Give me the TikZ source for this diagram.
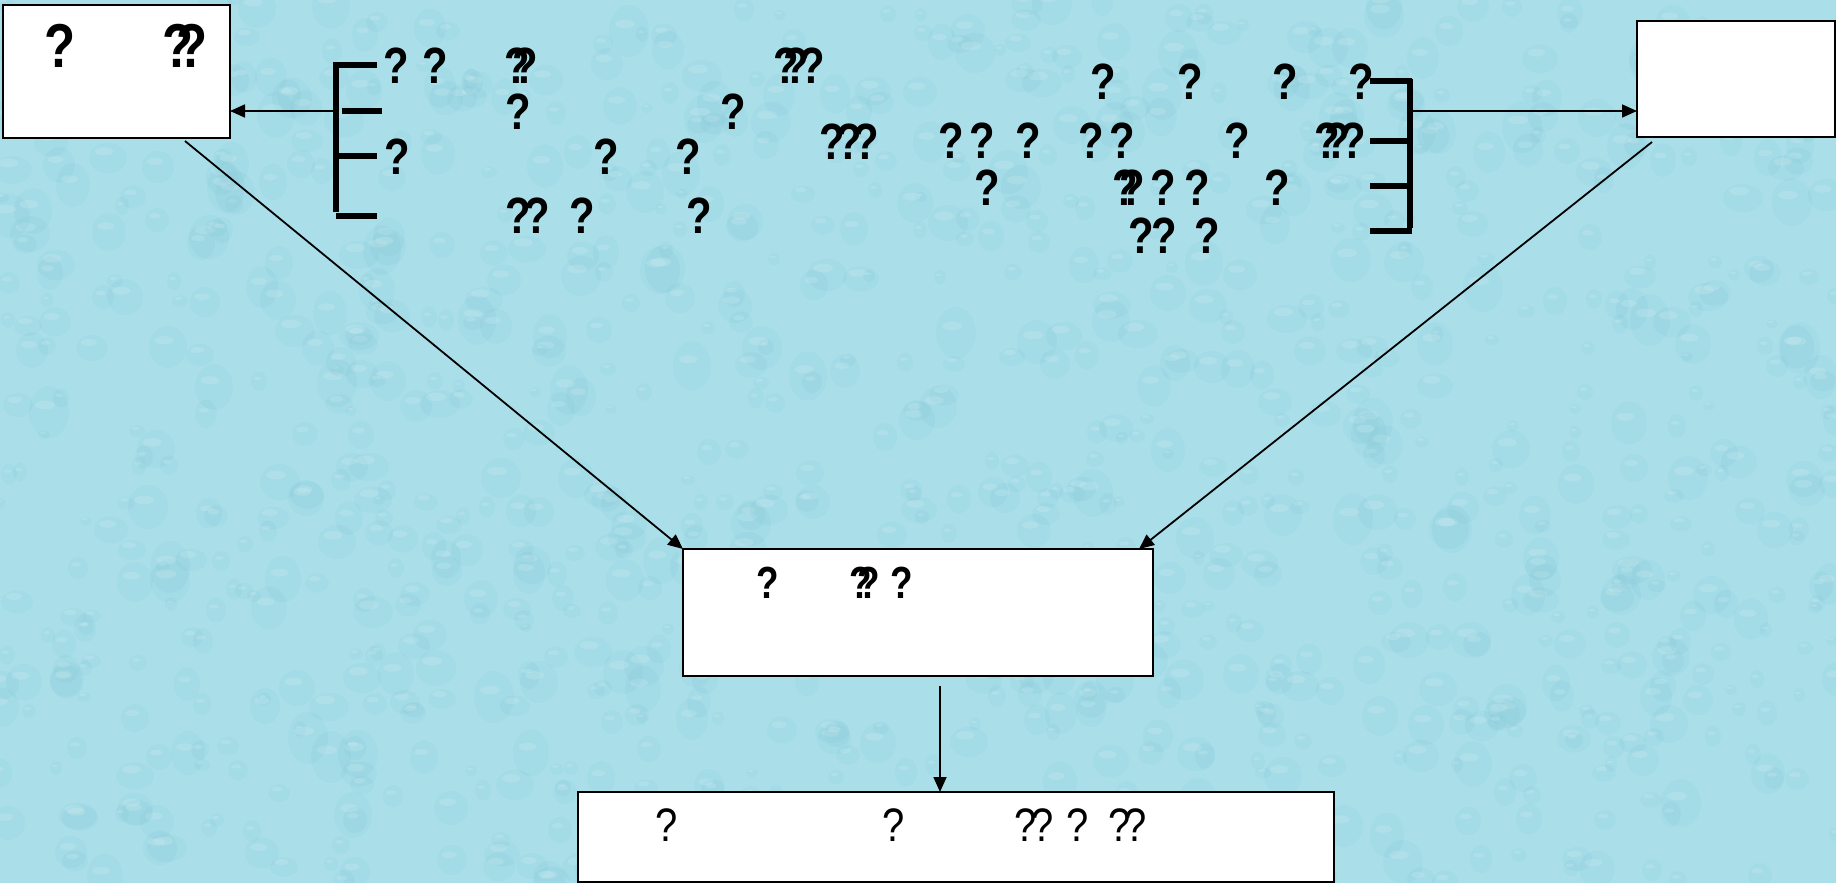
\documentclass[tikz,border=0pt]{standalone}
\usepackage{fontspec}
\usetikzlibrary{arrows.meta}
\newfontfamily\qfont{Liberation Sans}[FakeStretch=0.82]
\newfontfamily\nfont{Liberation Sans}[FakeStretch=0.85]
\newcommand\g[1]{\makebox[#1pt][c]{?}}
\definecolor{bgwater}{RGB}{170,223,233}
\definecolor{dropdark}{RGB}{120,192,210}
\begin{document}
\begin{tikzpicture}[x=1pt,y=-1pt,
  box/.style={draw=black, line width=2pt, fill=white, rectangle, inner sep=0pt, outer sep=0pt},
  q/.style={inner sep=0pt, font={\qfont\bfseries\fontsize{51}{51}\selectfont}},
  qbig/.style={inner sep=0pt, font={\qfont\bfseries\fontsize{62}{62}\selectfont}},
  qmid/.style={inner sep=0pt, font={\qfont\bfseries\fontsize{45}{45}\selectfont}},
  qlow/.style={inner sep=0pt, font={\nfont\fontsize{47}{47}\selectfont}},
  arr/.style={draw=black, line width=1.8pt, -{Triangle[length=15pt,width=13pt]}},
  brk/.style={draw=black, line width=5.5pt}]
\useasboundingbox (0,0) rectangle (1836,883);
\fill[bgwater] (0,0) rectangle (1836,883);
% water-drop texture of the background
\pgfmathsetseed{4242}
\foreach \i in {1,...,1100}{
  \pgfmathsetmacro\xx{random(0,1836)}
  \pgfmathsetmacro\yy{random(0,883)}
  \pgfmathsetmacro\rr{random(6,20)}
  \pgfmathsetmacro\ss{random(7,13)/10}
  \fill[dropdark, opacity=0.12] (\xx,\yy) ellipse [x radius=\rr, y radius=\rr*\ss];
  \fill[white, opacity=0.14] (\xx-\rr*0.2,\yy-\rr*0.35) ellipse [x radius=\rr*0.5, y radius=\rr*0.22];
}

% boxes
\node[box, minimum width=227pt, minimum height=133pt] (TL) at (116.5,71.5) {};
\node[box, minimum width=198pt, minimum height=116pt] (TR) at (1736,79) {};
\node[box, minimum width=470pt, minimum height=127pt] (mid) at (918,612.5) {};
\node[box, minimum width=756pt, minimum height=90pt] (bot) at (956,837) {};

% box texts
\node[qbig] (tl1) at (60,46) {?};
\node[qbig] (tl2) at (185,46) {\g{14}\g{14}};
\node[qmid] (m1) at (768,583) {?};
\node[qmid] (m2) at (865,583) {\g{8}\g{8}};
\node[qmid] (m3) at (902,583) {?};
\node[qlow] (b1) at (667,825) {?};
\node[qlow] (b2) at (894,825) {?};
\node[qlow] (b3) at (1034,825) {\g{17}\g{17}};
\node[qlow] (b4) at (1078,825) {?};
\node[qlow] (b5) at (1128,825) {\g{16}\g{16}};

% left text
\node[q] (l11) at (396,66) {?};
\node[q] (l12) at (435,66) {?};
\node[q] (l13) at (521,66) {\g{8}\g{8}};
\node[q] (l14) at (802,66) {\g{8}\g{12}\g{20}};
\node[q] (l21) at (518,112) {?};
\node[q] (l22) at (733,112) {?};
\node[q] (l31) at (397,157) {?};
\node[q] (l32) at (606,157) {?};
\node[q] (l33) at (688,157) {?};
\node[q] (l34) at (849,142) {\g{17}\g{17}\g{17}};
\node[q] (l41) at (528,216) {\g{19}\g{19}};
\node[q] (l42) at (582,216) {?};
\node[q] (l43) at (699,216) {?};

% right text
\node[q] (r11) at (1103,82) {?};
\node[q] (r12) at (1190,82) {?};
\node[q] (r13) at (1285,82) {?};
\node[q] (r14) at (1361,82) {?};
\node[q] (r21) at (951,141) {?};
\node[q] (r22) at (982,141) {?};
\node[q] (r23) at (1028,141) {?};
\node[q] (r24) at (1091,141) {?};
\node[q] (r25) at (1122,141) {?};
\node[q] (r26) at (1237,141) {?};
\node[q] (r27) at (1343,141) {\g{8}\g{12}\g{20}};
\node[q] (r31) at (987,188) {?};
\node[q] (r32) at (1129,188) {\g{7}\g{7}};
\node[q] (r33) at (1163,188) {?};
\node[q] (r34) at (1197,188) {?};
\node[q] (r35) at (1277,188) {?};
\node[q] (r41) at (1153,236) {\g{23}\g{23}};
\node[q] (r42) at (1207,236) {?};

% left bracket
\draw[brk] (336,63) -- (336,212);
\draw[brk] (333,65) -- (377,65);
\draw[brk] (342,111) -- (382,111);
\draw[brk] (333,156) -- (377,156);
\draw[brk] (336,216) -- (377,216);
% right bracket
\draw[brk] (1410,79) -- (1410,228);
\draw[brk] (1370,81) -- (1412,81);
\draw[brk] (1370,141) -- (1410,141);
\draw[brk] (1370,186) -- (1410,186);
\draw[brk] (1370,231) -- (1412,231);

% connector coordinates
\coordinate (bl) at (333,111);
\coordinate (br) at (1412,111);
\coordinate (tlout) at (185,141);
\coordinate (trout) at (1652,142);
\coordinate (midin) at (1139,549);
\coordinate (midout) at (940,686);
\coordinate (botin) at (940,792);

\draw[arr] (bl) -- (bl -| TL.east);
\draw[arr] (br) -- (br -| TR.west);
\draw[arr] (tlout) -- (mid.north west);
\draw[arr] (trout) -- (midin);
\draw[arr] (midout) -- (botin);
\end{tikzpicture}
\end{document}
